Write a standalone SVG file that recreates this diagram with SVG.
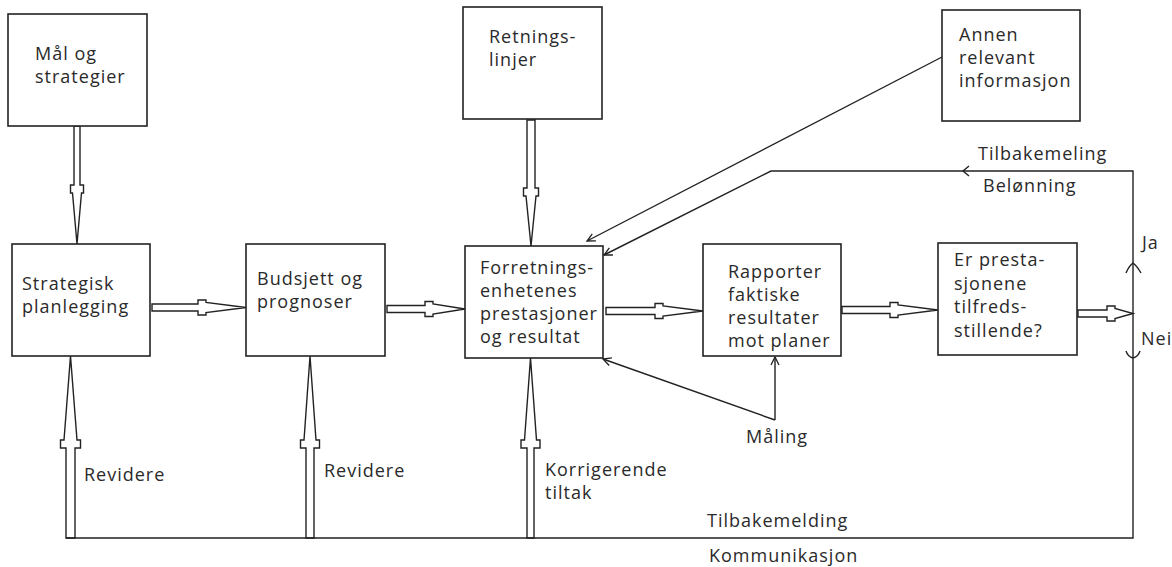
<svg xmlns="http://www.w3.org/2000/svg" width="1172" height="567" viewBox="0 0 1172 567">
  <style>
    .box { fill: #ffffff; stroke: #222222; stroke-width: 1.6; }
    .txt { font-family: "Open Sans", "Noto Sans", "DejaVu Sans", sans-serif; font-size: 18px; letter-spacing: 1px; fill: #2a2a2a; }
    .wide { fill: #ffffff; stroke: #222222; stroke-width: 1.4; stroke-linejoin: miter; }
    .thin { fill: none; stroke: #222222; stroke-width: 1.4; }
  </style>
  <defs>
    <marker id="open" markerWidth="12" markerHeight="12" refX="9" refY="5" orient="auto" markerUnits="userSpaceOnUse">
      <path d="M1,1 L9,5 L1,9" fill="none" stroke="#222222" stroke-width="1.3"/>
    </marker>
  </defs>

  <rect width="1172" height="567" fill="#ffffff"/>

  <!-- connectors -->
  <g id="connectors">
    <!-- hollow block arrows -->
    <polygon class="wide" points="74,126 74,185 70.5,185 70.5,193 72.5,193 77,244 81.5,193 83.5,193 83.5,185 80,185 80,126"/>
    <polygon class="wide" points="527,120 527,188 523.5,188 523.5,196 526,196 531,246 536,196 538.5,196 538.5,188 535,188 535,120"/>
    <polygon class="wide" points="152,304 198,304 198,300 206,300 206,302.5 246,307.5 206,312.5 206,315 198,315 198,311 152,311"/>
    <polygon class="wide" points="387,305.5 425,305.5 425,301.5 433,301.5 433,304 465,309 433,314 433,316.5 425,316.5 425,312.5 387,312.5"/>
    <polygon class="wide" points="606,307.5 655,307.5 655,303.5 663,303.5 663,306 703,311 663,316 663,318.5 655,318.5 655,314.5 606,314.5"/>
    <polygon class="wide" points="842,306.5 890,306.5 890,302.5 898,302.5 898,305 938,310 898,315 898,317.5 890,317.5 890,313.5 842,313.5"/>
    <polygon class="wide" points="1078,310 1107,310 1107,306 1115,306 1115,308.5 1133,313.5 1115,318.5 1115,321 1107,321 1107,317 1078,317"/>
    <polygon class="wide" points="66,538 66,448 60.5,448 60.5,440 64,440 70.5,356 77,440 80.5,440 80.5,448 75,448 75,538"/>
    <polygon class="wide" points="306,538 306,448 300.5,448 300.5,440 304,440 310,356 316,440 319.5,440 319.5,448 314,448 314,538"/>
    <polygon class="wide" points="527,538 527,448 521,448 521,440 524.5,440 530.5,358 536.5,440 540,440 540,448 534,448 534,538"/>

    <!-- feedback loop lines -->
    <path class="thin" d="M66,538 H1133 V171 H771 L604,255" marker-end="url(#open)"/>
    <path class="thin" d="M969,166 L963,171 L969,176"/>
    <!-- Ja / Nei branch marks -->
    <path class="thin" d="M1126,273 Q1129,266 1133,263 Q1137,266 1141,273"/>
    <path class="thin" d="M1126,351 Q1128,357 1133,358 Q1138,357 1140,351"/>

    <!-- other information -->
    <path class="thin" d="M942,57 L587,241" marker-end="url(#open)"/>

    <!-- measurement -->
    <path class="thin" d="M775,420 L775,357" marker-end="url(#open)"/>
    <path class="thin" d="M775,420 L603,359" marker-end="url(#open)"/>
  </g>

  <g id="maal">
    <rect class="box" x="8" y="14" width="139" height="112"/>
    <text class="txt" x="35" y="60">Mål og</text>
    <text class="txt" x="35" y="83">strategier</text>
  </g>

  <g id="retningslinjer">
    <rect class="box" x="463" y="7" width="139" height="112"/>
    <text class="txt" x="489" y="43">Retnings-</text>
    <text class="txt" x="489" y="66">linjer</text>
  </g>

  <g id="annen">
    <rect class="box" x="942" y="10" width="138" height="111"/>
    <text class="txt" x="959" y="41">Annen</text>
    <text class="txt" x="959" y="64">relevant</text>
    <text class="txt" x="959" y="87">informasjon</text>
  </g>

  <g id="strategisk">
    <rect class="box" x="12" y="244" width="138" height="112"/>
    <text class="txt" x="22" y="290">Strategisk</text>
    <text class="txt" x="22" y="313">planlegging</text>
  </g>

  <g id="budsjett">
    <rect class="box" x="246" y="244" width="139" height="112"/>
    <text class="txt" x="257" y="285">Budsjett og</text>
    <text class="txt" x="257" y="308">prognoser</text>
  </g>

  <g id="forretning">
    <rect class="box" x="465" y="246" width="138" height="112"/>
    <text class="txt" x="480" y="274">Forretnings-</text>
    <text class="txt" x="480" y="297">enhetenes</text>
    <text class="txt" x="480" y="320">prestasjoner</text>
    <text class="txt" x="480" y="343">og resultat</text>
  </g>

  <g id="rapporter">
    <rect class="box" x="703" y="244" width="138" height="112"/>
    <text class="txt" x="728" y="278">Rapporter</text>
    <text class="txt" x="728" y="301">faktiske</text>
    <text class="txt" x="728" y="324">resultater</text>
    <text class="txt" x="728" y="347">mot planer</text>
  </g>

  <g id="tilfreds">
    <rect class="box" x="938" y="243" width="139" height="112"/>
    <text class="txt" x="954" y="266">Er presta-</text>
    <text class="txt" x="954" y="290">sjonene</text>
    <text class="txt" x="954" y="313">tilfreds-</text>
    <text class="txt" x="954" y="337">stillende?</text>
  </g>

  <g id="labels">
    <text class="txt" x="978" y="160">Tilbakemeling</text>
    <text class="txt" x="983" y="192">Belønning</text>
    <text class="txt" x="1142" y="249">Ja</text>
    <text class="txt" x="1141" y="345">Nei</text>
    <text class="txt" x="746" y="443">Måling</text>
    <text class="txt" x="84" y="481">Revidere</text>
    <text class="txt" x="324" y="477">Revidere</text>
    <text class="txt" x="545" y="476">Korrigerende</text>
    <text class="txt" x="545" y="499">tiltak</text>
    <text class="txt" x="707" y="527">Tilbakemelding</text>
    <text class="txt" x="709" y="562">Kommunikasjon</text>
  </g>
</svg>
